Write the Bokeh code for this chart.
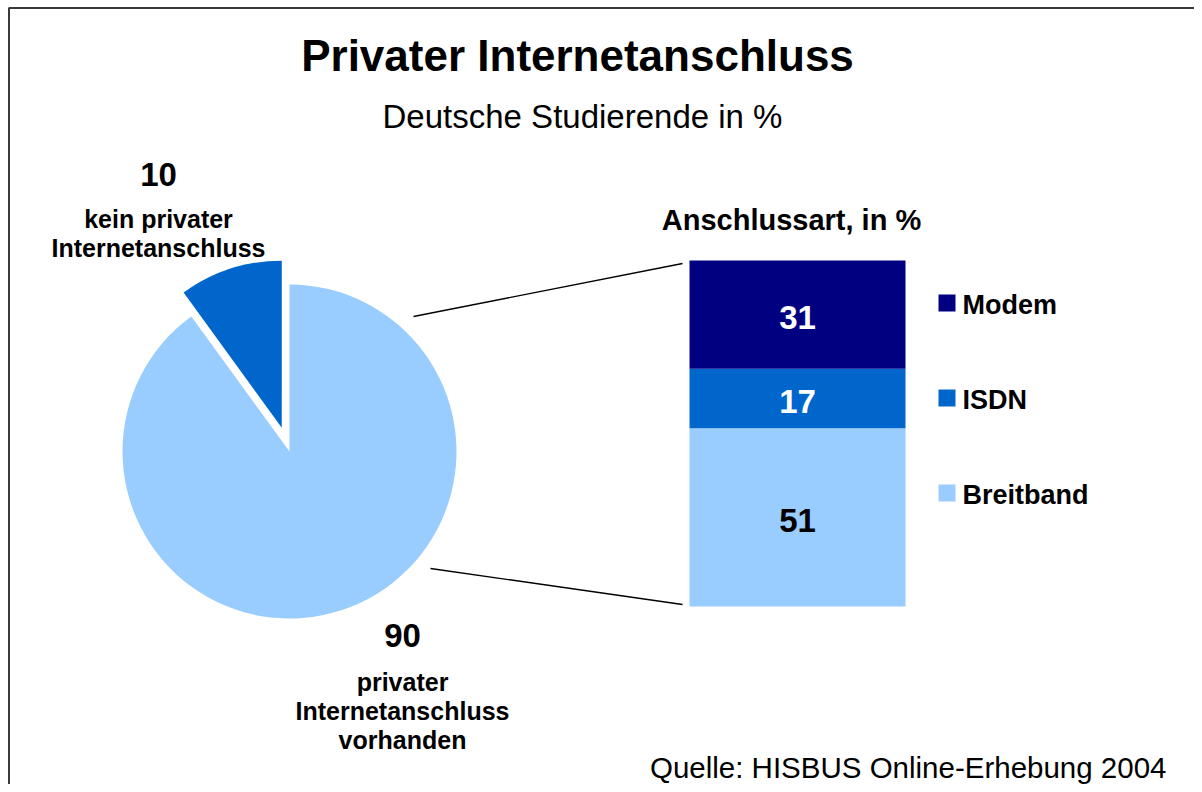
from bokeh.plotting import figure
from bokeh.models import Range1d, ColumnDataSource
from bokeh.embed import file_html
from bokeh.resources import INLINE
from bokeh.core.properties import value
import math

# ---------------- data ----------------
pie_labels = ["kein privater Internetanschluss", "privater Internetanschluss vorhanden"]
pie_values = [10, 90]
pie_colors = ["#0066CC", "#99CCFF"]

bar_categories = ["Breitband", "ISDN", "Modem"]   # bottom -> top
bar_values = [51, 17, 31]
bar_colors = ["#99CCFF", "#0066CC", "#000080"]
bar_text_colors = ["black", "white", "white"]

title = "Privater Internetanschluss"
subtitle = "Deutsche Studierende in %"
bar_title = "Anschlussart, in %"
source_note = "Quelle: HISBUS Online-Erhebung 2004"

FONT = "Liberation Sans"
W, H = 1194, 784


def Y(py):
    """picture pixel row -> data y (y axis points up)"""
    return H - py


p = figure(width=W, height=H, x_range=Range1d(0, W), y_range=Range1d(0, H),
           output_backend="svg", toolbar_location=None, min_border=0,
           outline_line_color=None, background_fill_color="white",
           border_fill_color="white")
p.axis.visible = False
p.grid.visible = False

# ---------------- border (top and left edges of the slide) ----------------
p.line(x=[8.5, 8.5, W], y=[Y(H), Y(7.5), Y(7.5)], line_color="#3a3a3a", line_width=2)

# ---------------- pie ----------------
cx, cy, r, explode = 289, Y(451), 167, 25
total = sum(pie_values)
start = math.pi / 2
starts, ends, xs, ys = [], [], [], []
for i, v in enumerate(pie_values):
    a0 = start
    a1 = start + 2 * math.pi * v / total
    mid = (a0 + a1) / 2
    off = explode if i == 0 else 0
    xs.append(cx + off * math.cos(mid))
    ys.append(cy + off * math.sin(mid))
    starts.append(a0)
    ends.append(a1)
    start = a1
pie_src = ColumnDataSource(dict(x=xs, y=ys, start=starts, end=ends, color=pie_colors))
p.wedge(x="x", y="y", radius=r, start_angle="start", end_angle="end",
        fill_color="color", line_color=None, source=pie_src)

# ---------------- connector lines ----------------
p.segment(x0=[413, 430], y0=[Y(316), Y(568)], x1=[682, 682], y1=[Y(263), Y(604)],
          line_color="black", line_width=1.4)

# ---------------- stacked bar (own y scale) ----------------
bar_top_px, bar_bottom_px = 260, 606
btotal = sum(bar_values)
px_per_unit = (bar_bottom_px - bar_top_px) / btotal
rng_start = -(H - bar_bottom_px) / px_per_unit
rng_end = rng_start + H / px_per_unit
p.extra_y_ranges = {"bar": Range1d(rng_start, rng_end)}

bottoms, tops, mids = [], [], []
acc = 0
for v in bar_values:
    bottoms.append(acc)
    tops.append(acc + v)
    mids.append(acc + v / 2)
    acc += v
bar_src = ColumnDataSource(dict(x=[797] * 3, bottom=bottoms, top=tops, mid=mids,
                                color=bar_colors, tcolor=bar_text_colors,
                                label=[str(v) for v in bar_values]))
p.vbar(x="x", width=216, bottom="bottom", top="top", fill_color="color",
       line_color=None, source=bar_src, y_range_name="bar")
p.text(x="x", y="mid", text="label", text_color="tcolor", source=bar_src,
       y_range_name="bar", text_align="center", text_baseline="middle",
       text_font=value(FONT), text_font_style="bold", text_font_size="33px",
       y_offset=3)

# ---------------- legend (manual) ----------------
leg_y = [Y(302.5), Y(397.5), Y(492.5)]        # Modem, ISDN, Breitband
leg_names = bar_categories[::-1]
leg_colors = bar_colors[::-1]
leg_src = ColumnDataSource(dict(x=[946.5] * 3, tx=[962] * 3, y=leg_y,
                                name=leg_names, color=leg_colors))
p.scatter(x="x", y="y", marker="square", size=17, fill_color="color",
          line_color=None, source=leg_src)
p.text(x="tx", y="y", text="name", source=leg_src, text_align="left",
       text_baseline="middle", text_font=value(FONT), text_font_style="bold",
       text_font_size="27px", text_color="black", y_offset=1.5)


# ---------------- texts ----------------
def lab(x, baseline_py, txt, size, bold=False, align="center"):
    center_py = baseline_py - 0.35 * size
    p.text(x=[x], y=[Y(center_py)], text=[txt], text_align=align,
           text_baseline="middle", text_font=value(FONT),
           text_font_size=f"{size}px",
           text_font_style="bold" if bold else "normal",
           text_color="black")


lab(577, 70, title, 44, bold=True)
lab(582, 128, subtitle, 33)
lab(791, 230, bar_title, 29, bold=True)

lab(158, 186, str(pie_values[0]), 33, bold=True)
lab(158, 227, "kein privater", 25, bold=True)
lab(158, 256, "Internetanschluss", 25, bold=True)

lab(402, 647, str(pie_values[1]), 33, bold=True)
lab(402, 690, "privater", 25, bold=True)
lab(402, 719, "Internetanschluss", 25, bold=True)
lab(402, 748, "vorhanden", 25, bold=True)

lab(1166, 777, source_note, 29.5, align="right")

open("out.html", "w").write(file_html(p, INLINE))
